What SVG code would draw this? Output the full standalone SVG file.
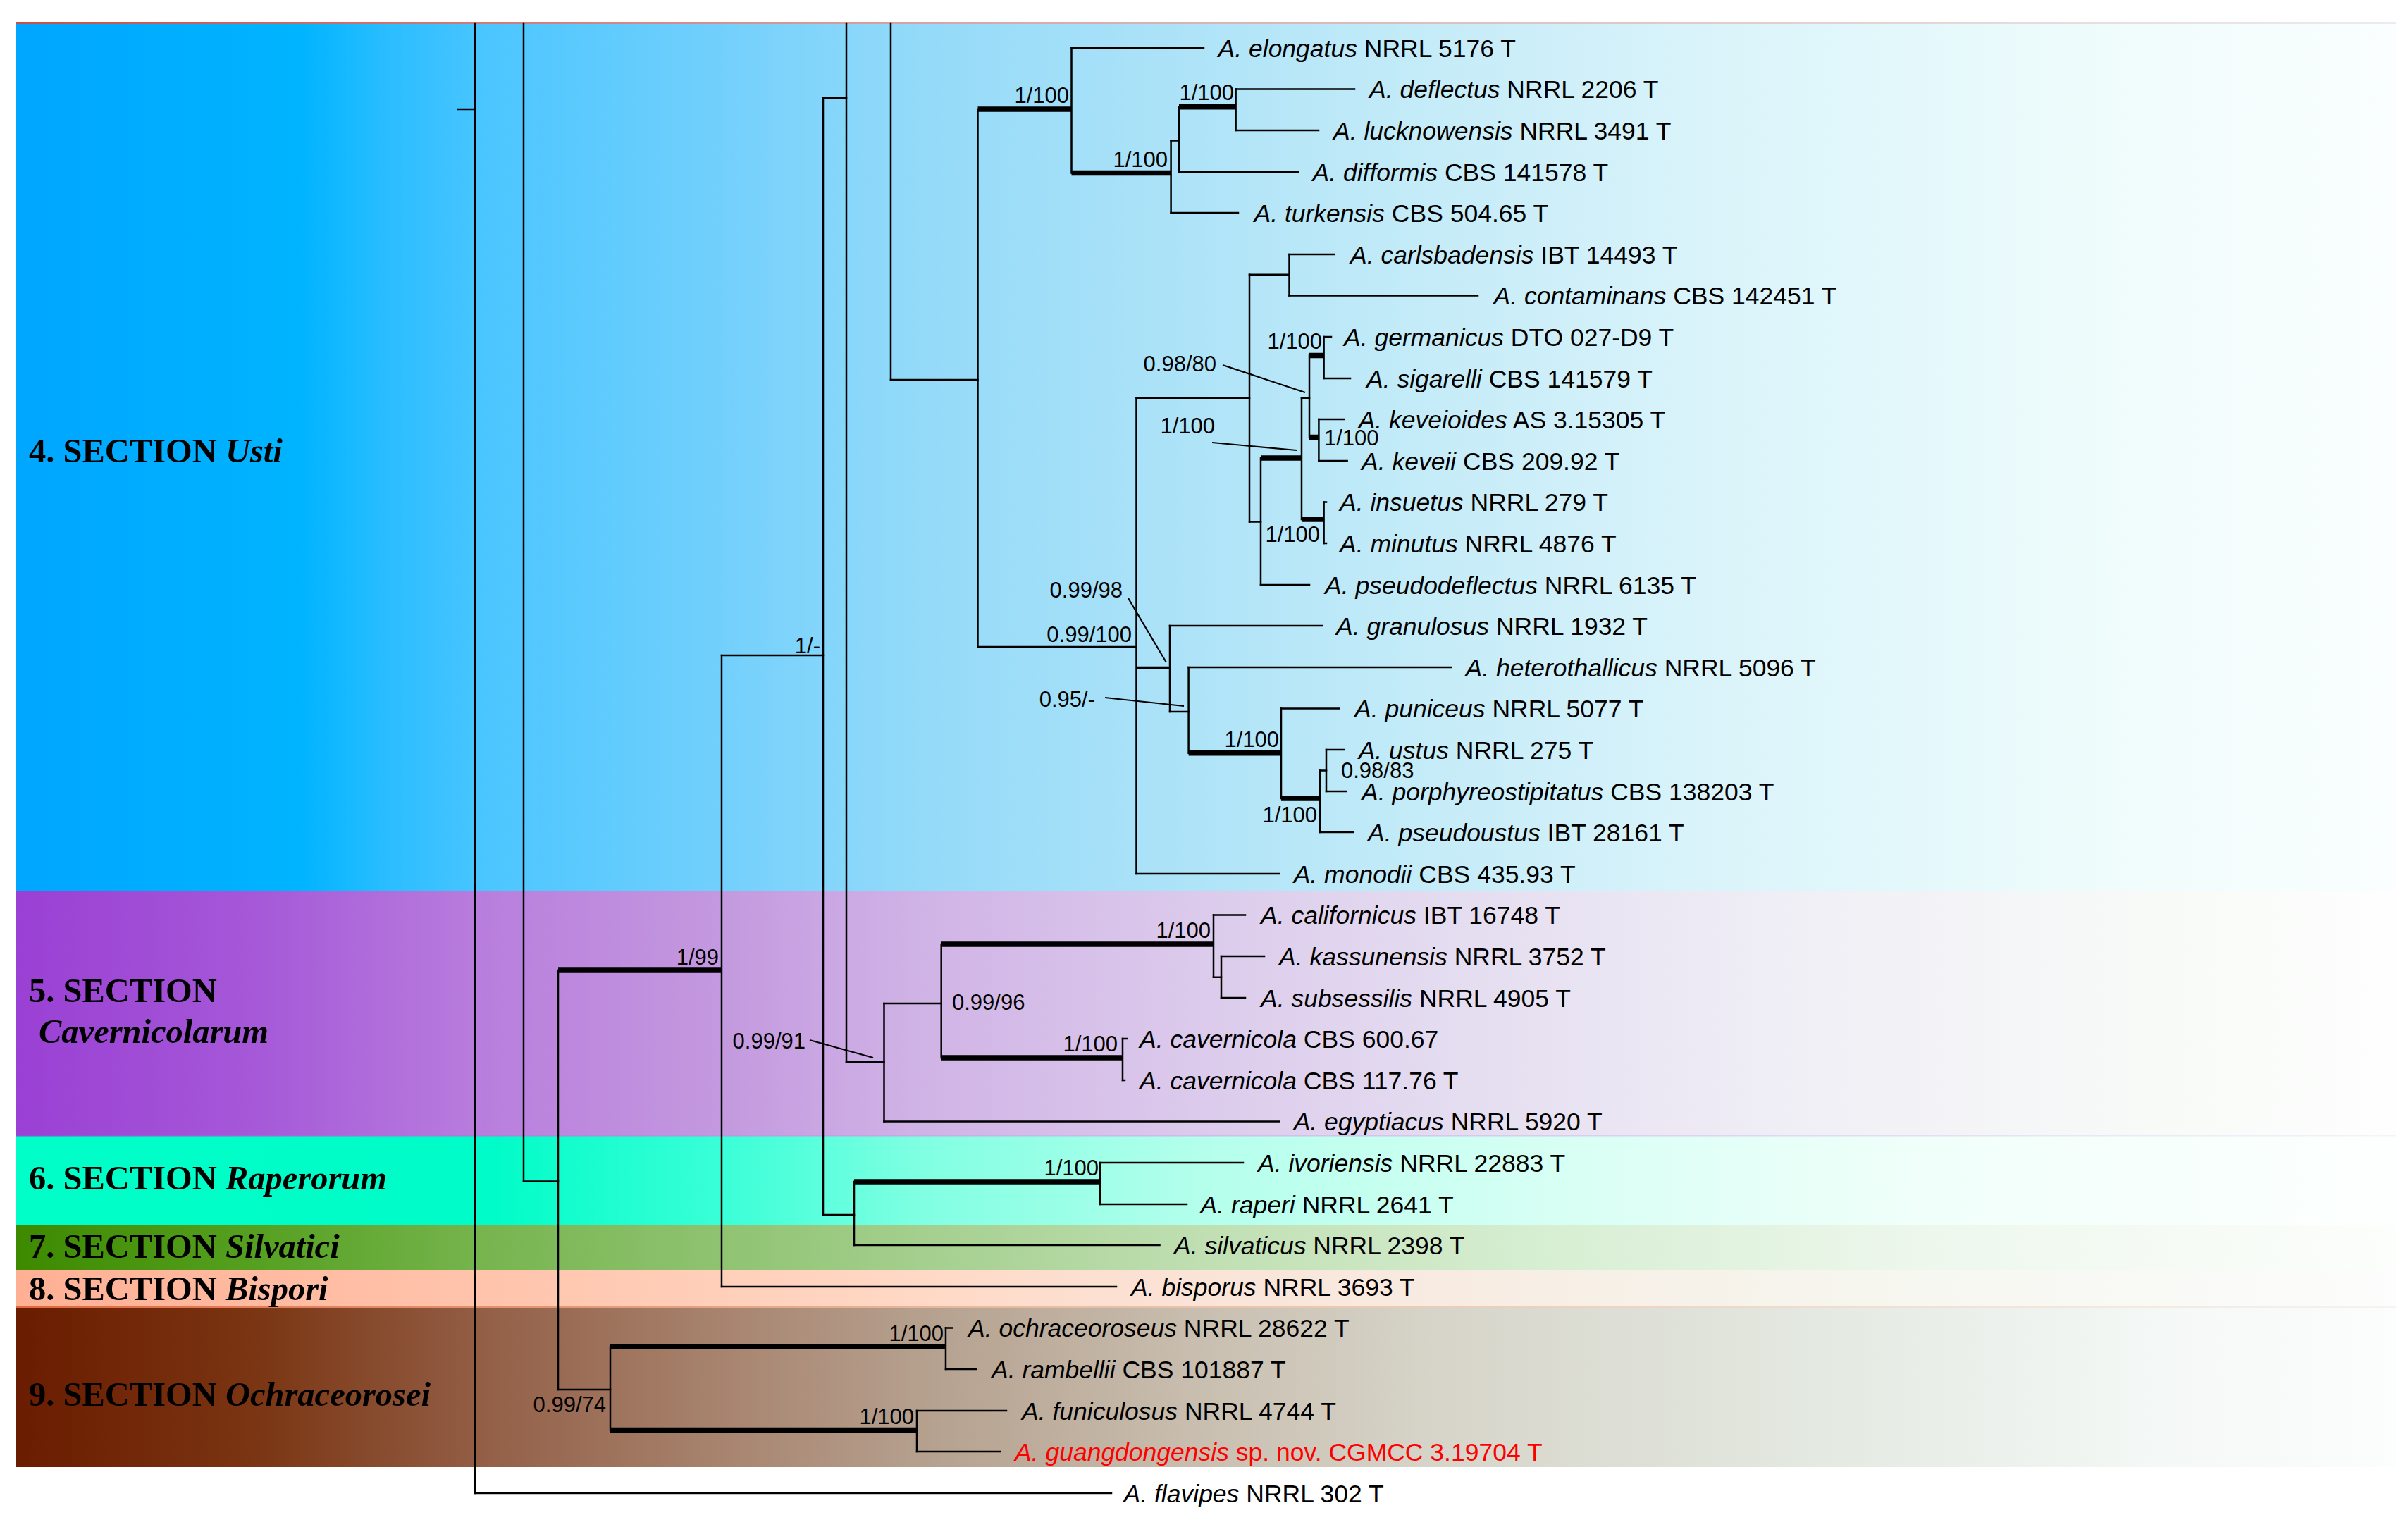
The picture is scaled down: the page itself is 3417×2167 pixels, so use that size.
<svg xmlns="http://www.w3.org/2000/svg" width="3417" height="2167" viewBox="0 0 3417 2167">
<style>
.tx{font-family:"Liberation Sans",Arial,sans-serif;font-size:35.5px;fill:#000}
.it{font-style:italic}
.red{fill:#ff0000}
.sp{font-family:"Liberation Sans",Arial,sans-serif;font-size:31px;fill:#000}
.sec{font-family:"Liberation Serif","Times New Roman",serif;font-weight:bold;font-size:48.5px;fill:#000}
.br{stroke:#000;stroke-width:2.5;fill:none;stroke-linecap:square}
.bt{stroke:#000;stroke-width:7.5;fill:none;stroke-linecap:butt}
.bm{stroke:#000;stroke-width:4;fill:none;stroke-linecap:butt}
.ld{stroke:#000;stroke-width:2.2;fill:none}
</style>
<defs>
<linearGradient id="gUsti" gradientUnits="userSpaceOnUse" x1="22" y1="0" x2="3400" y2="0">
<stop offset="0" stop-color="#00A6FF"/><stop offset="0.12" stop-color="#00B4FF"/><stop offset="0.156" stop-color="#2ABDFF"/><stop offset="0.2" stop-color="#4CC6FF"/><stop offset="0.29" stop-color="#70CFFC"/><stop offset="0.378" stop-color="#93DAF9"/><stop offset="0.467" stop-color="#A8E1F8"/><stop offset="0.585" stop-color="#C3EBF8"/><stop offset="0.704" stop-color="#D9F3FA"/><stop offset="0.793" stop-color="#E3F8FB"/><stop offset="0.882" stop-color="#F0FCFC"/><stop offset="1" stop-color="#FAFEFE"/>
</linearGradient>
<linearGradient id="gCav" gradientUnits="userSpaceOnUse" x1="22" y1="0" x2="3400" y2="0">
<stop offset="0" stop-color="#9A40D4"/><stop offset="0.1" stop-color="#A558D8"/><stop offset="0.2" stop-color="#B97FDD"/><stop offset="0.3" stop-color="#C49ADF"/><stop offset="0.38" stop-color="#D0B3E6"/><stop offset="0.5" stop-color="#DCCBEC"/><stop offset="0.6" stop-color="#E4DCF0"/><stop offset="0.75" stop-color="#F0EFF6"/><stop offset="0.9" stop-color="#F8FAF8"/><stop offset="1" stop-color="#FDFEFD"/>
</linearGradient>
<linearGradient id="gRap" gradientUnits="userSpaceOnUse" x1="22" y1="0" x2="3400" y2="0">
<stop offset="0" stop-color="#00FFC8"/><stop offset="0.2" stop-color="#00FCC8"/><stop offset="0.3" stop-color="#3CFFD8"/><stop offset="0.38" stop-color="#80FFE2"/><stop offset="0.5" stop-color="#B4FFEC"/><stop offset="0.65" stop-color="#D8FFF4"/><stop offset="0.8" stop-color="#F0FFFA"/><stop offset="1" stop-color="#FDFFFE"/>
</linearGradient>
<linearGradient id="gSil" gradientUnits="userSpaceOnUse" x1="22" y1="0" x2="3400" y2="0">
<stop offset="0" stop-color="#3D8A00"/><stop offset="0.1" stop-color="#55A020"/><stop offset="0.2" stop-color="#78B550"/><stop offset="0.38" stop-color="#A4CF8E"/><stop offset="0.5" stop-color="#C0DFB2"/><stop offset="0.65" stop-color="#D8EFD4"/><stop offset="0.8" stop-color="#EDF7EC"/><stop offset="1" stop-color="#FCFEFC"/>
</linearGradient>
<linearGradient id="gBis" gradientUnits="userSpaceOnUse" x1="22" y1="0" x2="3400" y2="0">
<stop offset="0" stop-color="#FFB094"/><stop offset="0.2" stop-color="#FFC4AC"/><stop offset="0.38" stop-color="#FFD9C6"/><stop offset="0.5" stop-color="#FAE4D8"/><stop offset="0.65" stop-color="#F7EFE6"/><stop offset="0.8" stop-color="#F6F7F0"/><stop offset="1" stop-color="#FCFDFC"/>
</linearGradient>
<linearGradient id="gOch" gradientUnits="userSpaceOnUse" x1="22" y1="0" x2="3400" y2="0">
<stop offset="0" stop-color="#6A1C00"/><stop offset="0.1" stop-color="#7A3512"/><stop offset="0.2" stop-color="#946048"/><stop offset="0.3" stop-color="#A88570"/><stop offset="0.38" stop-color="#B5A08E"/><stop offset="0.5" stop-color="#C9BFB0"/><stop offset="0.6" stop-color="#D7D5CA"/><stop offset="0.75" stop-color="#E3E8E0"/><stop offset="0.9" stop-color="#F4F8F6"/><stop offset="1" stop-color="#FCFDFD"/>
</linearGradient>
<linearGradient id="gTop" gradientUnits="userSpaceOnUse" x1="22" y1="0" x2="3400" y2="0">
<stop offset="0" stop-color="#C8504A"/><stop offset="0.4" stop-color="#D8A8A8"/><stop offset="1" stop-color="#ECECEC"/>
</linearGradient>
<linearGradient id="gSepBis" gradientUnits="userSpaceOnUse" x1="22" y1="0" x2="3400" y2="0">
<stop offset="0" stop-color="#E06840"/><stop offset="0.4" stop-color="#E8B8A0"/><stop offset="1" stop-color="#F4F4F0"/>
</linearGradient>
<linearGradient id="gSepCav" gradientUnits="userSpaceOnUse" x1="22" y1="0" x2="3400" y2="0">
<stop offset="0" stop-color="#8A50D8"/><stop offset="0.4" stop-color="#C8B0E8"/><stop offset="1" stop-color="#F4F4F8"/>
</linearGradient>
</defs>

<g id="bands">
<rect x="22" y="33" width="3378" height="1231" fill="url(#gUsti)"/>
<rect x="22" y="1264" width="3378" height="348" fill="url(#gCav)"/>
<rect x="22" y="1612" width="3378" height="126" fill="url(#gRap)"/>
<rect x="22" y="1738" width="3378" height="64" fill="url(#gSil)"/>
<rect x="22" y="1802" width="3378" height="53" fill="url(#gBis)"/>
<rect x="22" y="1855" width="3378" height="227" fill="url(#gOch)"/>
<rect x="22" y="31" width="3378" height="3" fill="url(#gTop)"/>
<rect x="22" y="1853" width="3378" height="3" fill="url(#gSepBis)"/>
<rect x="22" y="1610.5" width="3378" height="2" fill="url(#gSepCav)"/>
</g>

<g id="sections">
<text id="sec-usti" class="sec" x="41" y="656">4. SECTION <tspan class="it">Usti</tspan></text>
<text id="sec-cav" class="sec" x="41" y="1422">5. SECTION</text>
<text class="sec it" x="55" y="1480">Cavernicolarum</text>
<text id="sec-rap" class="sec" x="41" y="1688">6. SECTION <tspan class="it">Raperorum</tspan></text>
<text id="sec-sil" class="sec" x="41" y="1785">7. SECTION <tspan class="it">Silvatici</tspan></text>
<text id="sec-bis" class="sec" x="41" y="1845">8. SECTION <tspan class="it">Bispori</tspan></text>
<text id="sec-och" class="sec" x="41" y="1995">9. SECTION <tspan class="it">Ochraceorosei</tspan></text>
</g>

<g id="connectors">
<path class="br" d="M674 33V2119 M743 33V1676.5 M792 1377V1972 M866 1911V2029.5 M1342 1884.5V1943 M1301 2002V2060 M1024 930V1826 M1168 139V1724 M1212 1677V1767 M1561 1650V1709 M1201 33V1507 M1254.5 1424V1591.5 M1335.7 1340V1501 M1722 1298.5V1386.8 M1733 1357V1416 M1593 1474V1533 M1264 33V539 M1387.5 155V918 M1520.5 68V245.5 M1661.6 199.5V302 M1673 151.8V244 M1753.6 126.5V185 M1612.5 564.7V1240 M1773 389.7V740.5 M1829.5 361V419.5 M1789 650V830 M1847 564.7V737 M1858 504.5V620.5 M1878.6 478V537 M1871.4 595V654 M1878.6 712.5V771 M1660 888V1010 M1686.6 947V1068.7 M1818 1005.5V1133 M1873 1093.6V1181 M1882 1064V1123"/>
<path class="br" d="M650 155H674 M674 2119H1577 M743 1676.5H792 M792 1972H866 M1342 1884.5H1351 M1342 1943H1385 M1301 2002H1428 M1301 2060H1419 M1024 1826H1584 M1024 930H1168 M1168 1724H1212 M1212 1767H1645.5 M1561 1650H1764 M1561 1709H1684 M1168 139H1201 M1201 1507H1254.5 M1254.5 1424H1335.7 M1254.5 1591.5H1815 M1722 1298.5H1767 M1722 1386.8H1733 M1733 1357H1794 M1733 1416H1767 M1593 1474H1599 M1593 1533H1596 M1264 539H1387.5 M1387.5 918H1612.5 M1520.5 68H1708 M1661.6 199.5H1673 M1661.6 302H1757 M1673 244H1842 M1753.6 126.5H1922 M1753.6 185H1871 M1612.5 564.7H1773 M1612.5 1240H1815 M1773 389.7H1829.5 M1829.5 361H1893.75 M1829.5 419.5H2097 M1773 740.5H1789 M1789 830H1858 M1847 564.7H1858 M1878.6 478H1889 M1878.6 537H1916 M1871.4 595H1907 M1871.4 654H1911.6 M1878.6 712.5H1882 M1878.6 771H1882 M1660 888H1876 M1660 1010H1686.6 M1686.6 947H2059 M1818 1005.5H1900 M1873 1181H1920.5 M1873 1093.6H1882 M1882 1064H1907 M1882 1123H1910"/>
<path class="bm" d="M1612.5 947.7H1660"/>
<path class="bt" d="M1387.5 155H1520.5 M1520.5 245.5H1661.6 M1673 151.8H1753.6 M1858 504.5H1878.6 M1858 620.5H1871.4 M1789 650H1847 M1847 737H1878.6 M1686.6 1068.7H1818 M1818 1133H1873 M1335.7 1340H1722 M1335.7 1501H1593 M792 1377H1024 M1212 1677H1561 M866 1911H1342 M866 2029.5H1301"/>
<path class="ld" d="M1735 518L1852 557 M1720 628L1840 639 M1601 849L1655 940 M1568 990L1680 1002 M1149 1476L1239 1501"/>
</g>

<g id="supports">
<text class="sp" x="1517" y="146" text-anchor="end">1/100</text>
<text class="sp" x="1657" y="237" text-anchor="end">1/100</text>
<text class="sp" x="1751" y="142" text-anchor="end">1/100</text>
<text class="sp" x="1726" y="527" text-anchor="end">0.98/80</text>
<text class="sp" x="1876" y="495" text-anchor="end">1/100</text>
<text class="sp" x="1724" y="615" text-anchor="end">1/100</text>
<text class="sp" x="1879" y="632">1/100</text>
<text class="sp" x="1873" y="769" text-anchor="end">1/100</text>
<text class="sp" x="1593" y="848" text-anchor="end">0.99/98</text>
<text class="sp" x="1606" y="911" text-anchor="end">0.99/100</text>
<text class="sp" x="1554" y="1003" text-anchor="end">0.95/-</text>
<text class="sp" x="1815" y="1060" text-anchor="end">1/100</text>
<text class="sp" x="1903" y="1104">0.98/83</text>
<text class="sp" x="1869" y="1167" text-anchor="end">1/100</text>
<text class="sp" x="1718" y="1331" text-anchor="end">1/100</text>
<text class="sp" x="1351" y="1433">0.99/96</text>
<text class="sp" x="1586" y="1492" text-anchor="end">1/100</text>
<text class="sp" x="1559" y="1668" text-anchor="end">1/100</text>
<text class="sp" x="1020" y="1369" text-anchor="end">1/99</text>
<text class="sp" x="1143" y="1488" text-anchor="end">0.99/91</text>
<text class="sp" x="1164" y="927" text-anchor="end">1/-</text>
<text class="sp" x="1339" y="1903" text-anchor="end">1/100</text>
<text class="sp" x="1297" y="2021" text-anchor="end">1/100</text>
<text class="sp" x="860" y="2004" text-anchor="end">0.99/74</text>
</g>

<g id="taxa">
<g id="t01"><text class="tx" x="1728.6" y="80.5"><tspan class="it">A. elongatus</tspan> NRRL 5176 T</text></g>
<g id="t02"><text class="tx" x="1943" y="139"><tspan class="it">A. deflectus</tspan> NRRL 2206 T</text></g>
<g id="t03"><text class="tx" x="1892" y="197.5"><tspan class="it">A. lucknowensis</tspan> NRRL 3491 T</text></g>
<g id="t04"><text class="tx" x="1862.5" y="256.5"><tspan class="it">A. difformis</tspan> CBS 141578 T</text></g>
<g id="t05"><text class="tx" x="1779.5" y="314.5"><tspan class="it">A. turkensis</tspan> CBS 504.65 T</text></g>
<g id="t06"><text class="tx" x="1916" y="373.5"><tspan class="it">A. carlsbadensis</tspan> IBT 14493 T</text></g>
<g id="t07"><text class="tx" x="2119.6" y="432"><tspan class="it">A. contaminans</tspan> CBS 142451 T</text></g>
<g id="t08"><text class="tx" x="1907" y="490.5"><tspan class="it">A. germanicus</tspan> DTO 027-D9 T</text></g>
<g id="t09"><text class="tx" x="1939" y="549.5"><tspan class="it">A. sigarelli</tspan> CBS 141579 T</text></g>
<g id="t10"><text class="tx" x="1927.7" y="607.5"><tspan class="it">A. keveioides</tspan> AS 3.15305 T</text></g>
<g id="t11"><text class="tx" x="1932" y="666.5"><tspan class="it">A. keveii</tspan> CBS 209.92 T</text></g>
<g id="t12"><text class="tx" x="1901" y="725"><tspan class="it">A. insuetus</tspan> NRRL 279 T</text></g>
<g id="t13"><text class="tx" x="1901" y="783.5"><tspan class="it">A. minutus</tspan> NRRL 4876 T</text></g>
<g id="t14"><text class="tx" x="1880" y="842.5"><tspan class="it">A. pseudodeflectus</tspan> NRRL 6135 T</text></g>
<g id="t15"><text class="tx" x="1896" y="900.5"><tspan class="it">A. granulosus</tspan> NRRL 1932 T</text></g>
<g id="t16"><text class="tx" x="2079.5" y="959.5"><tspan class="it">A. heterothallicus</tspan> NRRL 5096 T</text></g>
<g id="t17"><text class="tx" x="1922" y="1018"><tspan class="it">A. puniceus</tspan> NRRL 5077 T</text></g>
<g id="t18"><text class="tx" x="1927.7" y="1076.5"><tspan class="it">A. ustus</tspan> NRRL 275 T</text></g>
<g id="t19"><text class="tx" x="1932" y="1135.5"><tspan class="it">A. porphyreostipitatus</tspan> CBS 138203 T</text></g>
<g id="t20"><text class="tx" x="1941" y="1193.5"><tspan class="it">A. pseudoustus</tspan> IBT 28161 T</text></g>
<g id="t21"><text class="tx" x="1835.7" y="1252.5"><tspan class="it">A. monodii</tspan> CBS 435.93 T</text></g>
<g id="t22"><text class="tx" x="1789" y="1311"><tspan class="it">A. californicus</tspan> IBT 16748 T</text></g>
<g id="t23"><text class="tx" x="1815" y="1369.5"><tspan class="it">A. kassunensis</tspan> NRRL 3752 T</text></g>
<g id="t24"><text class="tx" x="1789" y="1428.5"><tspan class="it">A. subsessilis</tspan> NRRL 4905 T</text></g>
<g id="t25"><text class="tx" x="1617" y="1486.5"><tspan class="it">A. cavernicola</tspan> CBS 600.67</text></g>
<g id="t26"><text class="tx" x="1617" y="1545.5"><tspan class="it">A. cavernicola</tspan> CBS 117.76 T</text></g>
<g id="t27"><text class="tx" x="1835.7" y="1604"><tspan class="it">A. egyptiacus</tspan> NRRL 5920 T</text></g>
<g id="t28"><text class="tx" x="1785" y="1662.5"><tspan class="it">A. ivoriensis</tspan> NRRL 22883 T</text></g>
<g id="t29"><text class="tx" x="1703.6" y="1721.5"><tspan class="it">A. raperi</tspan> NRRL 2641 T</text></g>
<g id="t30"><text class="tx" x="1666" y="1779.5"><tspan class="it">A. silvaticus</tspan> NRRL 2398 T</text></g>
<g id="t31"><text class="tx" x="1605" y="1838.5"><tspan class="it">A. bisporus</tspan> NRRL 3693 T</text></g>
<g id="t32"><text class="tx" x="1374" y="1897"><tspan class="it">A. ochraceoroseus</tspan> NRRL 28622 T</text></g>
<g id="t33"><text class="tx" x="1407" y="1955.5"><tspan class="it">A. rambellii</tspan> CBS 101887 T</text></g>
<g id="t34"><text class="tx" x="1450" y="2014.5"><tspan class="it">A. funiculosus</tspan> NRRL 4744 T</text></g>
<g id="t35"><text class="tx red" x="1440" y="2072.5"><tspan class="it">A. guangdongensis</tspan> sp. nov. CGMCC 3.19704 T</text></g>
<g id="t36"><text class="tx" x="1594.6" y="2131.5"><tspan class="it">A. flavipes</tspan> NRRL 302 T</text></g>
</g>
</svg>
